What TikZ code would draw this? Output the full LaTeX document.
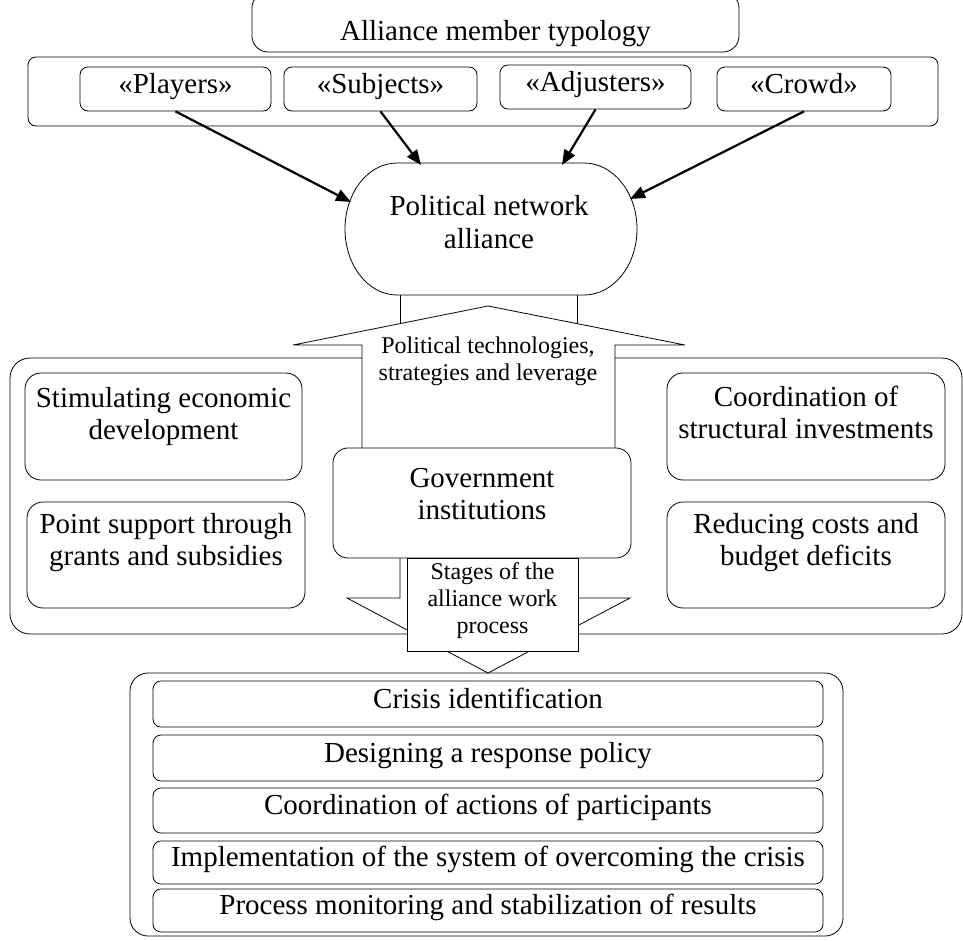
\documentclass[tikz,border=0pt]{standalone}
\usepackage{fontspec}
\setmainfont{Liberation Serif}
\usetikzlibrary{arrows.meta}
\tikzset{
  mainf/.style={font=\fontsize{29}{32}\selectfont},
  smallf/.style={font=\fontsize{24}{27}\selectfont},
  frame/.style={draw, fill=white, rounded corners=#1, inner sep=0pt},
  cell/.style={draw, fill=white, rounded corners=8pt, inner sep=2pt,
               text height=20pt, text depth=12pt, mainf},
  txt/.style={align=center, inner sep=0pt},
  arr/.style={line width=2.2pt, -{Triangle[length=15pt,width=12pt]}},
}
\begin{document}
\begin{tikzpicture}[x=1pt,y=-1pt,line width=0.8pt]
\useasboundingbox (0,0) rectangle (963,940);
\clip (0,0) rectangle (963,940);

% typology
\node[frame=16pt, minimum width=487pt, minimum height=60pt] (titlebox) at (495.5,22) {};
\node[mainf, anchor=base, inner sep=0pt] (title) at (495.5,40) {Alliance member typology};
\node[frame=8pt, minimum width=910pt, minimum height=69pt] (typo) at (483,91.5) {};
\node[cell, minimum width=191pt, minimum height=44pt] (players) at (175.5,89) {«Players»};
\node[cell, minimum width=193pt, minimum height=44pt] (subjects) at (380.5,89) {«Subjects»};
\node[cell, minimum width=191pt, minimum height=44pt] (adjusters) at (595.5,87) {«Adjusters»};
\node[cell, minimum width=174pt, minimum height=44pt] (crowd) at (804,89) {«Crowd»};

% middle container
\node[frame=20pt, minimum width=952pt, minimum height=276pt] (mid) at (486,496) {};
\node[frame=16pt, minimum width=277pt, minimum height=107pt] (sbox1) at (163.5,426.5) {};
\node[frame=16pt, minimum width=278pt, minimum height=106pt] (sbox2) at (166,555) {};
\node[frame=16pt, minimum width=278pt, minimum height=107pt] (sbox3) at (806,426.5) {};
\node[frame=16pt, minimum width=278pt, minimum height=106pt] (sbox4) at (806,555) {};
\node[txt, mainf] (st1) at (163.5,417) {Stimulating economic\\development};
\node[txt, mainf] (st2) at (166,543) {Point support through\\grants and subsidies};
\node[txt, mainf] (st3) at (806,412) {Coordination of\\structural investments};
\node[txt, mainf] (st4) at (806,543) {Reducing costs and\\budget deficits};

% bottom container
\node[frame=18pt, minimum width=713pt, minimum height=263pt] (bottom) at (486.5,804.5) {};
\node[cell, minimum width=670pt, minimum height=46pt] (s1) at (488,704) {Crisis identification};
\node[cell, minimum width=670pt, minimum height=46pt] (s2) at (488,758) {Designing a response policy};
\node[cell, minimum width=670pt, minimum height=45pt] (s3) at (488,810.5) {Coordination of actions of participants};
\node[cell, minimum width=670pt, minimum height=43pt] (s4) at (488,862.5) {Implementation of the system of overcoming the crisis};
\node[cell, minimum width=670pt, minimum height=43pt] (s5) at (488,910.5) {Process monitoring and stabilization of results};

% shaft under the alliance shape
\draw[fill=white] (400,288) rectangle (577,340);
% alliance shape
\draw[fill=white] (397,163) -- (584,163)
  .. controls (613.3,163) and (637,192.5) .. (637,229)
  .. controls (637,265.5) and (613.3,295) .. (584,295)
  -- (397,295)
  .. controls (368.3,295) and (345,265.5) .. (345,229)
  .. controls (345,192.5) and (368.3,163) .. (397,163) -- cycle;
\node[txt, font=\fontsize{29}{33}\selectfont] (pna) at (489,221.6) {Political network\\alliance};

% up arrow callout
\draw[fill=white] (362,470) -- (362,345) -- (293,345) -- (488,306) -- (685,345)
  -- (615,345) -- (615,470) -- cycle;
% down arrow callout
\draw[fill=white] (400,540) -- (400,598) -- (347,598) -- (488,673) -- (630,598)
  -- (578,598) -- (578,540) -- cycle;

\node[frame=15pt, minimum width=298pt, minimum height=110pt] (gov) at (482,503) {};
\node[txt, mainf] (govt) at (482,494) {Government\\institutions};
\node[draw, fill=white, minimum width=171pt, minimum height=93pt, inner sep=0pt] (stagebox) at (492.5,604.5) {};
\node[txt, smallf] (stages) at (492.5,601) {Stages of the\\alliance work\\process};
\node[txt, smallf] (ptech) at (488,361) {Political technologies,\\strategies and leverage};

% arrows
\coordinate (tP) at (351,202);
\coordinate (tS) at (421,165);
\coordinate (tA) at (562,165);
\coordinate (tC) at (630,199);
\draw[arr] (players.south) -- (tP);
\draw[arr] (subjects.south) -- (tS);
\draw[arr] (adjusters.south) -- (tA);
\draw[arr] (crowd.south) -- (tC);
\end{tikzpicture}
\end{document}
